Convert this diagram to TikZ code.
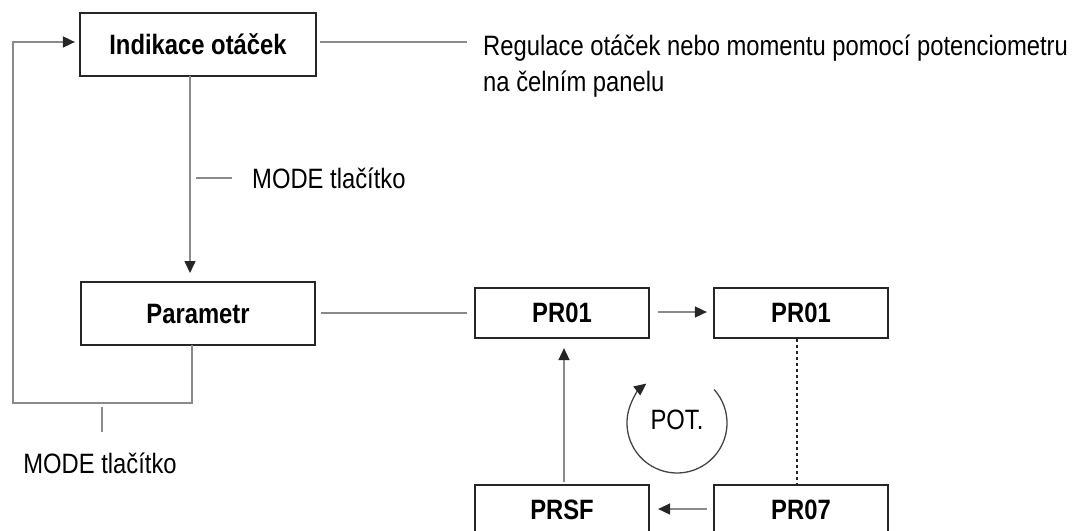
\documentclass[tikz,border=0pt]{standalone}
\usepackage{fontspec}
\setmainfont{Liberation Sans}[FakeStretch=0.85]
\usetikzlibrary{arrows.meta,calc}
\definecolor{boxline}{HTML}{262626}
\definecolor{wire}{HTML}{8A8A8A}
\tikzset{
  stepbox/.style={draw=boxline, line width=2.2pt, fill=white, inner sep=0pt,
    font=\fontsize{28}{32}\selectfont\bfseries},
  wirestyle/.style={draw=wire, line width=1.6pt},
  tip/.style={-{Triangle[length=12pt,width=11pt,color=boxline]}},
  arr/.style={wirestyle, tip},
  lbl/.style={font=\fontsize{28}{36}\selectfont, inner sep=0pt}
}
\begin{document}
\begin{tikzpicture}[x=1pt,y=-1pt]
\useasboundingbox (0,0) rectangle (1078,530);
\clip (0,0) rectangle (1078,530);

% boxes
\node[stepbox, minimum width=236pt, minimum height=63pt] (ind) at (198,44.5) {Indikace otáček};
\node[stepbox, minimum width=234pt, minimum height=63pt] (par) at (198,313.5) {Parametr};
\node[stepbox, minimum width=174pt, minimum height=50pt] (p1) at (562,313) {PR01};
\node[stepbox, minimum width=174pt, minimum height=50pt] (p2) at (801,313) {PR01};
\node[stepbox, minimum width=174pt, minimum height=50pt] (psf) at (562,510) {PRSF};
\node[stepbox, minimum width=174pt, minimum height=50pt] (p7) at (801,510) {PR07};

% helper points
\coordinate (loopA) at (192,345);
\coordinate (loopB) at (192,403);
\coordinate (loopC) at (13,403);
\coordinate (loopD) at (13,42);
\coordinate (downA) at (190,76);
\coordinate (downB) at (190,273);

% loop back from Parametr to Indikace
\draw[arr] (loopA) -- (loopB) -- (loopC) -- (loopD) -- ([xshift=-4pt]ind.west |- loopD);
% MODE step downward
\draw[arr] (downA) -- (downB);

% label ticks
\coordinate (t1a) at (196,178);
\coordinate (t1b) at (232,178);
\draw[wirestyle] (t1a) -- (t1b);
\node[lbl, anchor=west] (m1) at (252,178) {MODE tlačítko};

\coordinate (t2a) at (102,407);
\coordinate (t2b) at (102,432);
\draw[wirestyle] (t2a) -- (t2b);
\node[lbl] (m2) at (100,463) {MODE tlačítko};

% note on the speed display
\coordinate (n1a) at (320,42);
\coordinate (n1b) at (467,42);
\draw[wirestyle] (n1a) -- (n1b);
\node[lbl, anchor=north west, align=left] (note) at (483,35)
  {Regulace otáček nebo momentu pomocí potenciometru\\na čelním panelu};

% parameter link
\coordinate (n2a) at (321,313);
\coordinate (n2b) at (467,313);
\draw[wirestyle] (n2a) -- (n2b);

% parameter cycle
\draw[arr] ([xshift=8pt]p1.east |- 0,312) -- ([xshift=-6pt]p2.west |- 0,312);
\draw[arr] ([xshift=-6pt]p7.west |- 0,509) -- ([xshift=8pt]psf.east |- 0,509);
\draw[arr] ([yshift=2pt]psf.north -| 564,0) -- ([yshift=-9pt]p1.south -| 564,0);
\draw[boxline, line width=1.6pt, dash pattern=on 3pt off 3pt] (p2.south -| 797,0) -- (p7.north -| 797,0);

% potentiometer rotation
\coordinate (potc) at (677,423);
\draw[boxline!70!wire, line width=1.3pt, tip]
  ($(potc)+(-42:50)$) arc[start angle=-42, end angle=232, radius=50];
\node[lbl] (pot) at (677,420) {POT.};
\end{tikzpicture}
\end{document}
